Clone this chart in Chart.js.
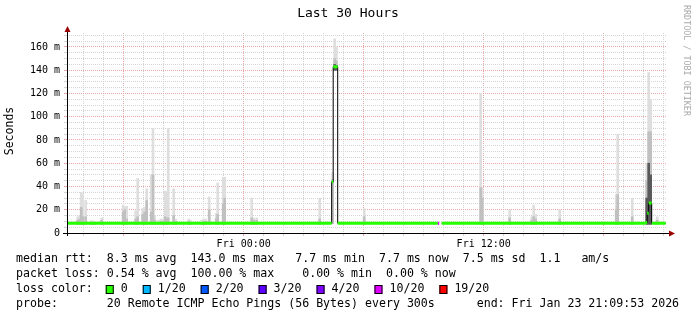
<!DOCTYPE html>
<html>
<head>
<meta charset="utf-8">
<script src="https://cdn.jsdelivr.net/npm/chart.js@4/dist/chart.umd.min.js"></script>
<style>
  html, body { margin: 0; padding: 0; background: #fff; }
  #graph { display: block; }
</style>
</head>
<body>
<canvas id="graph" width="697" height="315"></canvas>
<script>
// time axis: hours relative to Fri 00:00 (window = last 30 hours, ending Fri 21:09:53)
const startHour = -8.835;
const endHour = 21.165;

const xTickHours = [0, 12];
const xTickLabels = ["Fri 00:00", "Fri 12:00"];
const yTickValues = [0, 20, 40, 60, 80, 100, 120, 140, 160];
const yTickLabels = ["0", "20 m", "40 m", "60 m", "80 m", "100 m", "120 m", "140 m", "160 m"];

// smoke (ping spread) per 5 min step, in ms
const smokeHour = [-8.30, -8.20, -8.125, -8.05, -7.90, -7.65, -7.55, -7.45, -7.10,
  -6.025, -5.95, -5.85, -5.40, -5.30, -5.05, -4.95, -4.85, -4.625, -4.535, -4.45,
  -4.30, -4.15, -4.05, -3.925, -3.85, -3.775, -3.50, -3.40, -2.75, -2.675, -2.10,
  -2.00, -1.90, -1.725, -1.375, -1.30, -1.025, -0.95, 0.40, 0.50, 0.65, 3.80,
  4.45, 4.55, 4.635, 6.025, 11.85, 11.925, 13.30, 14.40, 14.50, 14.60, 15.80,
  18.00, 18.625, 18.70, 19.425, 20.15, 20.25, 20.35, 20.675];
const smokeLow = [7.5, 7.5, 7.5, 7.5, 7.5, 7.5, 7.5, 7.5, 7.5,
  7.5, 7.5, 7.5, 7.5, 7.5, 7.5, 7.5, 7.5, 7.5, 7.5, 7.5,
  7.5, 7.5, 7.5, 7.5, 7.5, 7.5, 7.5, 7.5, 7.5, 7.5, 7.5,
  7.5, 7.5, 7.5, 7.5, 7.5, 7.5, 7.5, 7.5, 7.5, 7.5, 7.5,
  8, 140, 140, 7.5, 7.5, 7.5, 7.5, 7.5, 7.5, 7.5, 7.5,
  7.5, 7.5, 7.5, 7.5, 7.5, 7.5, 7.5, 7.5];
const smokeTop = [14, 15, 35, 33, 28, 10.5, 10.5, 10, 13,
  24, 22.5, 23, 19, 47, 21, 22, 38, 50, 90, 15,
  11, 12, 12, 36, 35, 90, 38, 12, 12, 11, 11,
  12, 12, 31, 17, 43, 48, 48, 30, 13, 13, 30,
  52, 167, 160, 21, 120, 39, 20, 14, 24, 16, 20,
  10, 33, 85, 30, 60, 138, 115, 14];
const smokeMid = [11, 12, 22, 14, 14, 9, 9, 9, 11,
  18, 20, 12, 12, 14, 16, 18, 28, 18, 50, 11,
  9, 10, 10, 14, 12, 13, 15, 10, 10, 9, 9,
  10, 10, 20, 12, 16, 25, 30, 13, 11, 11, 12,
  46, 150, 148, 14, 39, 30, 13, 11, 14, 12, 12,
  9, 20, 33, 14, 45, 87, 87, 11];
const smokeCore = [null, null, null, null, null, null, null, null, null,
  null, null, null, null, null, null, null, null, null, null, null,
  null, null, null, null, null, null, null, null, null, null, null,
  null, null, null, null, null, null, null, null, null, null, null,
  null, 145, 144, null, null, null, null, null, null, null, null,
  null, null, null, null, 30, 60, 50, null];

// median rtt, step values (each holds until the next hour), ms
const medianHour = [-8.835, 4.40, 4.475, 4.70, 9.70, 9.775, 9.90, 20.10, 20.175, 20.25, 20.40, 21.10];
const medianVal = [8.3, 44, 143, 8.3, 8.3, null, 8.3, 9, 17, 25.8, 8.3, 8.3];
const medianLoss = [0, 0, 0, 0, 10, null, 0, 0, 0, 0, 0, 0];

const lossLabels = ["0", "1/20", "2/20", "3/20", "4/20", "10/20", "19/20"];
const lossColors = ["#26ff00", "#00b8ff", "#0059ff", "#5e00ff", "#7e00ff", "#dd00ff", "#ff0000"];

const MONO = "'DejaVu Sans Mono', monospace";
Chart.defaults.font.family = MONO;

function segmentsFor(loss) {
  const out = [];
  for (let i = 0; i < medianHour.length - 1; i++) {
    if (medianVal[i] == null || medianLoss[i] !== loss) continue;
    out.push({ x: medianHour[i], y: medianVal[i] });
    out.push({ x: medianHour[i + 1], y: medianVal[i] });
    out.push({ x: medianHour[i + 1], y: null });
  }
  return out;
}

const smokeBar = (tops, color) => ({
  type: "bar",
  data: smokeHour.map((h, i) => tops[i] == null ? null : { x: h, y: [smokeLow[i], tops[i]] }).filter(Boolean),
  backgroundColor: color,
  borderWidth: 0,
  barThickness: 2,
  grouped: false
});

const rrdDecor = {
  id: "rrdDecor",
  afterDatasetsDraw(chart) {
    const ctx = chart.ctx;
    const a = chart.chartArea;
    ctx.save();
    ctx.strokeStyle = "#000";
    ctx.lineWidth = 1;
    ctx.beginPath();
    ctx.moveTo(a.left + 0.5, a.bottom + 3);
    ctx.lineTo(a.left + 0.5, a.top - 3);
    ctx.moveTo(a.left - 4, a.bottom + 0.5);
    ctx.lineTo(a.right + 3, a.bottom + 0.5);
    ctx.stroke();
    ctx.fillStyle = "#990000";
    ctx.beginPath();
    ctx.moveTo(a.left + 0.5, a.top - 7);
    ctx.lineTo(a.left - 2.5, a.top - 1);
    ctx.lineTo(a.left + 3.5, a.top - 1);
    ctx.closePath();
    ctx.fill();
    ctx.beginPath();
    ctx.moveTo(a.right + 8, a.bottom + 0.5);
    ctx.lineTo(a.right + 2, a.bottom - 2.5);
    ctx.lineTo(a.right + 2, a.bottom + 3.5);
    ctx.closePath();
    ctx.fill();
    ctx.restore();
  },
  afterDraw(chart) {
    const ctx = chart.ctx;
    ctx.save();
    ctx.fillStyle = "#000";
    ctx.textBaseline = "middle";

    ctx.font = "13px " + MONO;
    ctx.textAlign = "center";
    ctx.fillText("Last 30 Hours", 348, 14);

    ctx.save();
    ctx.font = "11.5px " + MONO;
    ctx.translate(10, 131);
    ctx.rotate(-Math.PI / 2);
    ctx.fillText("Seconds", 0, 0);
    ctx.restore();

    ctx.save();
    ctx.fillStyle = "#aaaaaa";
    ctx.font = "8.4px " + MONO;
    ctx.textAlign = "left";
    ctx.translate(686, 5);
    ctx.rotate(Math.PI / 2);
    ctx.fillText("RRDTOOL / TOBI OETIKER", 0, 0);
    ctx.restore();

    ctx.font = "11.6px " + MONO;
    ctx.textAlign = "left";
    const x0 = 16;
    ctx.fillText("median rtt:  8.3 ms avg  143.0 ms max   7.7 ms min  7.7 ms now  7.5 ms sd  1.1   am/s", x0, 259);
    ctx.fillText("packet loss: 0.54 % avg  100.00 % max    0.00 % min  0.00 % now", x0, 274);
    ctx.fillText("loss color:", x0, 289);
    const cw = ctx.measureText("0").width;
    let x = x0 + 13 * cw - 1;
    lossLabels.forEach((lbl, i) => {
      ctx.fillStyle = lossColors[i];
      ctx.fillRect(x, 285, 8, 9);
      ctx.strokeStyle = "#000";
      ctx.lineWidth = 1;
      ctx.strokeRect(x + 0.5, 285.5, 7, 8);
      ctx.fillStyle = "#000";
      ctx.fillText(lbl, x + 2.15 * cw, 289);
      x += (4.3 + lbl.length) * cw;
    });
    ctx.fillText("probe:       20 Remote ICMP Echo Pings (56 Bytes) every 300s      end: Fri Jan 23 21:09:53 2026", x0, 304);
    ctx.restore();
  }
};

const PINK = "#e8a8a8";
const GRAY = "#d4d4d4";

new Chart(document.getElementById("graph"), {
  data: {
    datasets: [
      {
        type: "line",
        data: segmentsFor(0),
        borderColor: lossColors[0],
        borderWidth: 3,
        borderCapStyle: "butt",
        pointRadius: 0,
        spanGaps: false
      },
      {
        type: "line",
        data: segmentsFor(10),
        borderColor: lossColors[5],
        borderWidth: 3,
        borderCapStyle: "butt",
        pointRadius: 0,
        spanGaps: false
      },
      {
        type: "line",
        data: medianHour.map((h, i) => ({ x: h, y: medianVal[i] })),
        borderColor: "#000",
        borderWidth: 1,
        stepped: true,
        pointRadius: 0,
        spanGaps: false
      },
      smokeBar(smokeCore, "#5a5a5a"),
      smokeBar(smokeMid, "#c0c0c0"),
      smokeBar(smokeTop, "#dedede")
    ]
  },
  options: {
    responsive: false,
    devicePixelRatio: 1,
    animation: false,
    layout: { padding: { left: 0, right: 30, top: 33, bottom: 0 } },
    plugins: { legend: { display: false }, tooltip: { enabled: false } },
    scales: {
      x: {
        type: "linear",
        min: startHour,
        max: endHour,
        offset: false,
        afterFit: (s) => { s.height = 82; s.paddingLeft = 0; s.paddingRight = 0; },
        afterBuildTicks: (s) => {
          const t = [];
          for (let h = Math.ceil(startHour); h <= Math.floor(endHour); h++) t.push({ value: h });
          s.ticks = t;
        },
        border: { display: false, dash: [1, 1] },
        grid: {
          offset: false,
          color: (c) => (c.tick && c.tick.value % 6 === 0) ? PINK : GRAY,
          tickLength: 3,
          lineWidth: 1
        },
        ticks: {
          autoSkip: false,
          maxRotation: 0,
          padding: 2,
          color: "#000",
          font: { size: 10, family: MONO },
          callback: (v) => {
            const i = xTickHours.indexOf(v);
            return i >= 0 ? xTickLabels[i] : "";
          }
        }
      },
      y: {
        type: "linear",
        min: 0,
        max: 172,
        afterFit: (s) => { s.width = 67; s.paddingTop = 0; s.paddingBottom = 0; },
        afterBuildTicks: (s) => {
          const t = [];
          for (let v = 0; v <= 170; v += 5) t.push({ value: v });
          s.ticks = t;
        },
        border: { display: false, dash: [1, 1] },
        grid: {
          color: (c) => (c.tick && c.tick.value % 20 === 0) ? PINK : GRAY,
          tickLength: 3,
          lineWidth: 1
        },
        ticks: {
          autoSkip: false,
          padding: 4,
          color: "#000",
          font: { size: 10, family: MONO },
          callback: (v) => {
            const i = yTickValues.indexOf(v);
            return i >= 0 ? yTickLabels[i] : "";
          }
        }
      }
    }
  },
  plugins: [rrdDecor]
});
</script>
</body>
</html>
